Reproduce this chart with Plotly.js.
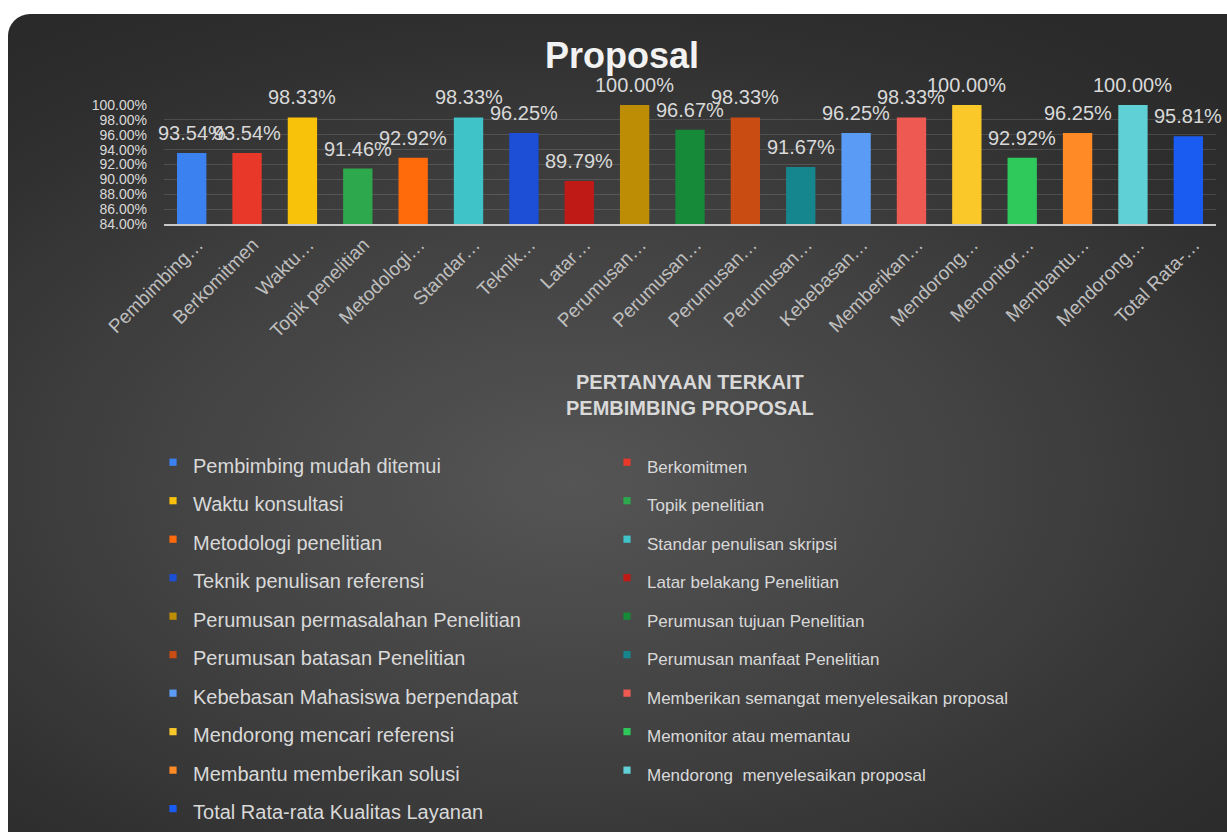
<!DOCTYPE html>
<html>
<head>
<meta charset="utf-8">
<script src="https://cdn.plot.ly/plotly-3.0.1.min.js"></script>
<style>
  html, body { margin: 0; padding: 0; background: #ffffff; overflow: hidden; }
  #card {
    position: absolute; left: 8px; top: 14px; width: 1250px; height: 850px;
    border-radius: 22px;
    background: radial-gradient(ellipse 75% 65% at 45% 55%, #555555 0%, #424242 45%, #2e2e2e 85%, #2a2a2a 100%);
  }
  #chart { position: absolute; left: 0; top: 0; width: 1227px; height: 832px; }
</style>
</head>
<body>
<div id="card"></div>
<div id="chart"></div>
<script>
// Full question names (legend)
const categories = [
  "Pembimbing mudah ditemui",
  "Berkomitmen",
  "Waktu konsultasi",
  "Topik penelitian",
  "Metodologi penelitian",
  "Standar penulisan skripsi",
  "Teknik penulisan referensi",
  "Latar belakang Penelitian",
  "Perumusan permasalahan Penelitian",
  "Perumusan tujuan Penelitian",
  "Perumusan batasan Penelitian",
  "Perumusan manfaat Penelitian",
  "Kebebasan Mahasiswa berpendapat",
  "Memberikan semangat menyelesaikan proposal",
  "Mendorong mencari referensi",
  "Memonitor atau memantau",
  "Membantu memberikan solusi",
  "Mendorong  menyelesaikan proposal",
  "Total Rata-rata Kualitas Layanan"
];

// Truncated axis tick labels
const tickLabels = [
  "Pembimbing…", "Berkomitmen", "Waktu…", "Topik penelitian", "Metodologi…",
  "Standar…", "Teknik…", "Latar…", "Perumusan…", "Perumusan…",
  "Perumusan…", "Perumusan…", "Kebebasan…", "Memberikan…", "Mendorong…",
  "Memonitor…", "Membantu…", "Mendorong…", "Total Rata-…"
];

// Percentages
const values = [
  93.54, 93.54, 98.33, 91.46, 92.92, 98.33, 96.25, 89.79, 100.00, 96.67,
  98.33, 91.67, 96.25, 98.33, 100.00, 92.92, 96.25, 100.00, 95.81
];

const colors = [
  "#3b82f0", "#e8382a", "#f8c10a", "#2ea84c", "#ff6a0a", "#3fc2c8", "#1c4fd6",
  "#bf1a16", "#bd8d06", "#168a38", "#c94c12", "#16868e", "#5a9cf5", "#ee5a52",
  "#fbc82a", "#2ec95a", "#ff8a26", "#5fd0d6", "#1a5cf2"
];

const yTickVals = [84, 86, 88, 90, 92, 94, 96, 98, 100];

const FONT = "Liberation Sans, Arial, sans-serif";

const traces = categories.map((name, i) => ({
  type: "bar",
  x: [i],
  y: [values[i]],
  name: '<span style="font-size:' + (i % 2 === 0 ? 20 : 17) + 'px">' + name + '</span>',
  marker: { color: colors[i] },
  width: 0.53,
  hoverinfo: "y"
}));

const dataLabels = values.map((v, i) => ({
  x: i, y: v, xref: "x", yref: "y",
  text: v.toFixed(2) + "%",
  showarrow: false,
  yanchor: "bottom",
  yshift: 7,
  font: { family: FONT, size: 20, color: "#d9d9d9" }
}));

const axisTitle = {
  xref: "paper", yref: "paper", x: 0.5, y: -1.437,
  xanchor: "center", yanchor: "middle",
  text: "<b>PERTANYAAN TERKAIT<br>PEMBIMBING PROPOSAL</b>",
  showarrow: false,
  font: { family: FONT, size: 20, color: "#d9d9d9" }
};

const layout = {
  width: 1227, height: 832,
  paper_bgcolor: "rgba(0,0,0,0)",
  plot_bgcolor: "rgba(0,0,0,0)",
  margin: { l: 164, r: 11, t: 105, b: 608, pad: 0 },
  font: { family: FONT, color: "#d9d9d9" },
  title: {
    text: "<b>Proposal</b>",
    x: 0.507, xref: "container", xanchor: "center",
    y: 0.934, yref: "container", yanchor: "middle",
    font: { family: FONT, size: 36, color: "#f2f2f2" }
  },
  barmode: "overlay",
  showlegend: true,
  legend: {
    orientation: "h",
    xref: "container", yref: "container",
    x: 0.1247, y: 0.4736, xanchor: "left", yanchor: "top",
    entrywidth: 409, entrywidthmode: "pixels",
    font: { family: FONT, size: 27.3, color: "#d9d9d9" },
    bgcolor: "rgba(0,0,0,0)",
    itemclick: false, itemdoubleclick: false
  },
  xaxis: {
    range: [-0.5, 18.5],
    tickmode: "array",
    tickvals: values.map((v, i) => i),
    ticktext: tickLabels,
    tickangle: -45,
    ticklabelshift: 6,
    tickfont: { family: FONT, size: 19, color: "#bfbfbf" },
    showline: true, linecolor: "#c8c8c8", linewidth: 2,
    showgrid: false, zeroline: false, ticks: "",
    automargin: false, fixedrange: true
  },
  yaxis: {
    range: [84, 100],
    tickmode: "array",
    tickvals: yTickVals,
    ticktext: yTickVals.map(v => v.toFixed(2) + "%"),
    tickfont: { family: FONT, size: 14, color: "#d9d9d9" },
    ticklabelstandoff: 16,
    showgrid: true, gridcolor: "rgba(255,255,255,0.13)", gridwidth: 1,
    zeroline: false, showline: false, ticks: "",
    automargin: false, fixedrange: true
  },
  annotations: dataLabels.concat([axisTitle])
};

function shrinkLegendSymbols() {
  document.querySelectorAll("#chart .legendpoints path").forEach(p => {
    if (p.dataset.shrunk) return;
    const t = p.getAttribute("transform") || "";
    p.setAttribute("transform", (t + " scale(0.6)").trim());
    p.dataset.shrunk = "1";
  });
}

Plotly.newPlot("chart", traces, layout, { displayModeBar: false, responsive: false })
  .then(shrinkLegendSymbols);
</script>
</body>
</html>
